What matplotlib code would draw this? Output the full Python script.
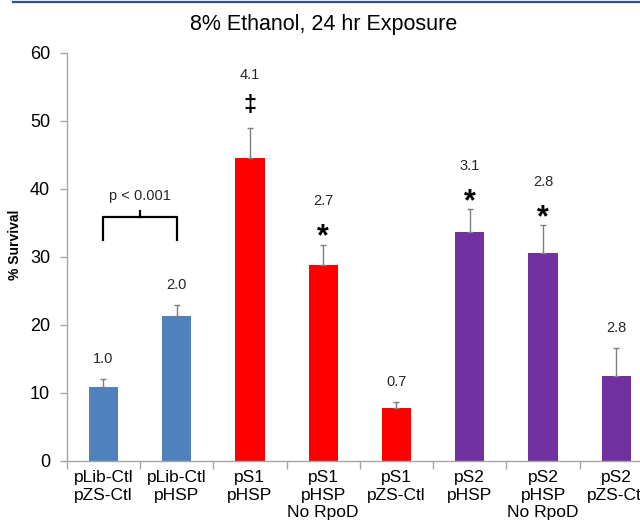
import matplotlib.pyplot as plt
from matplotlib.lines import Line2D

plt.rcParams['font.family'] = ['Liberation Sans', 'DejaVu Sans']

categories = ['pLib-Ctl\npZS-Ctl', 'pLib-Ctl\npHSP', 'pS1\npHSP', 'pS1\npHSP\nNo RpoD',
              'pS1\npZS-Ctl', 'pS2\npHSP', 'pS2\npHSP\nNo RpoD', 'pS2\npZS-Ctl']
survival = [10.9, 21.3, 44.5, 28.8, 7.7, 33.7, 30.5, 12.5]
err_upper = [1.1, 1.6, 4.4, 3.0, 1.0, 3.3, 4.1, 4.1]
fold = ['1.0', '2.0', '4.1', '2.7', '0.7', '3.1', '2.8', '2.8']
marks = ['', '', '\u2021', '*', '', '*', '*', '']
colors = ['#4F81BD', '#4F81BD', '#FF0000', '#FF0000', '#FF0000', '#7030A0', '#7030A0', '#7030A0']

fig = plt.figure(figsize=(6.4, 5.28), dpi=100)
ax = fig.add_axes([0.1042, 0.1275, 0.9161, 0.7725])

x = list(range(len(categories)))
ax.bar(x, survival, width=0.4, color=colors, edgecolor='none', zorder=2)
ax.errorbar(x, survival, yerr=[[0] * len(x), err_upper], fmt='none',
            ecolor='#7F7F7F', elinewidth=1, capsize=2.5, capthick=1, zorder=3)

for i in x:
    top = survival[i] + err_upper[i]
    if marks[i] == '*':
        ax.text(i, top + 1.0, '*', ha='center', va='center', fontsize=22, fontweight='bold')
        ax.text(i, top + 6.4, fold[i], ha='center', va='center', fontsize=10.5, color='#262626')
    elif marks[i]:
        ax.text(i, top + 3.3, marks[i], ha='center', va='center', fontsize=17, fontweight='bold')
        ax.text(i, top + 7.8, fold[i], ha='center', va='center', fontsize=10.5, color='#262626')
    else:
        ax.text(i, top + 2.9, fold[i], ha='center', va='center', fontsize=10.5, color='#262626')

# significance bracket between the two control strains
ax.plot([0, 0, 1, 1], [32.4, 35.9, 35.9, 32.4], color='black', lw=1.6, zorder=3)
ax.plot([0.5, 0.5], [35.9, 36.7], color='black', lw=1.6, zorder=3)
ax.text(0.5, 38.9, 'p < 0.001', ha='center', va='center', fontsize=10.5, color='#262626')

ax.set_xlim(-0.5, 7.5)
ax.set_ylim(0, 60)
ax.set_yticks(range(0, 61, 10))
ax.set_xticks(x)
ax.set_xticklabels(categories, fontsize=12.5, linespacing=1.18)
ax.set_xticks([i - 0.5 for i in range(len(categories) + 1)], minor=True)
ax.tick_params(axis='x', which='major', length=0, pad=7)
ax.tick_params(axis='x', which='minor', length=6, color='#A6A6A6', width=1)
ax.tick_params(axis='y', length=5, color='#A6A6A6', width=1, labelsize=13, pad=7)

for side in ['top', 'right']:
    ax.spines[side].set_visible(False)
for side in ['left', 'bottom']:
    ax.spines[side].set_color('#A6A6A6')
    ax.spines[side].set_linewidth(1)

ax.set_ylabel('% Survival', fontsize=10, fontweight='bold')
ax.yaxis.set_label_coords(-0.076, 0.53)

fig.text(0.506, 0.953, '8% Ethanol, 24 hr Exposure', ha='center', va='center', fontsize=15.5)
fig.add_artist(Line2D([0.02, 1.0], [0.997, 0.997], color='#2E4DA7', lw=1.6))

fig.savefig('out.png', dpi=100)
